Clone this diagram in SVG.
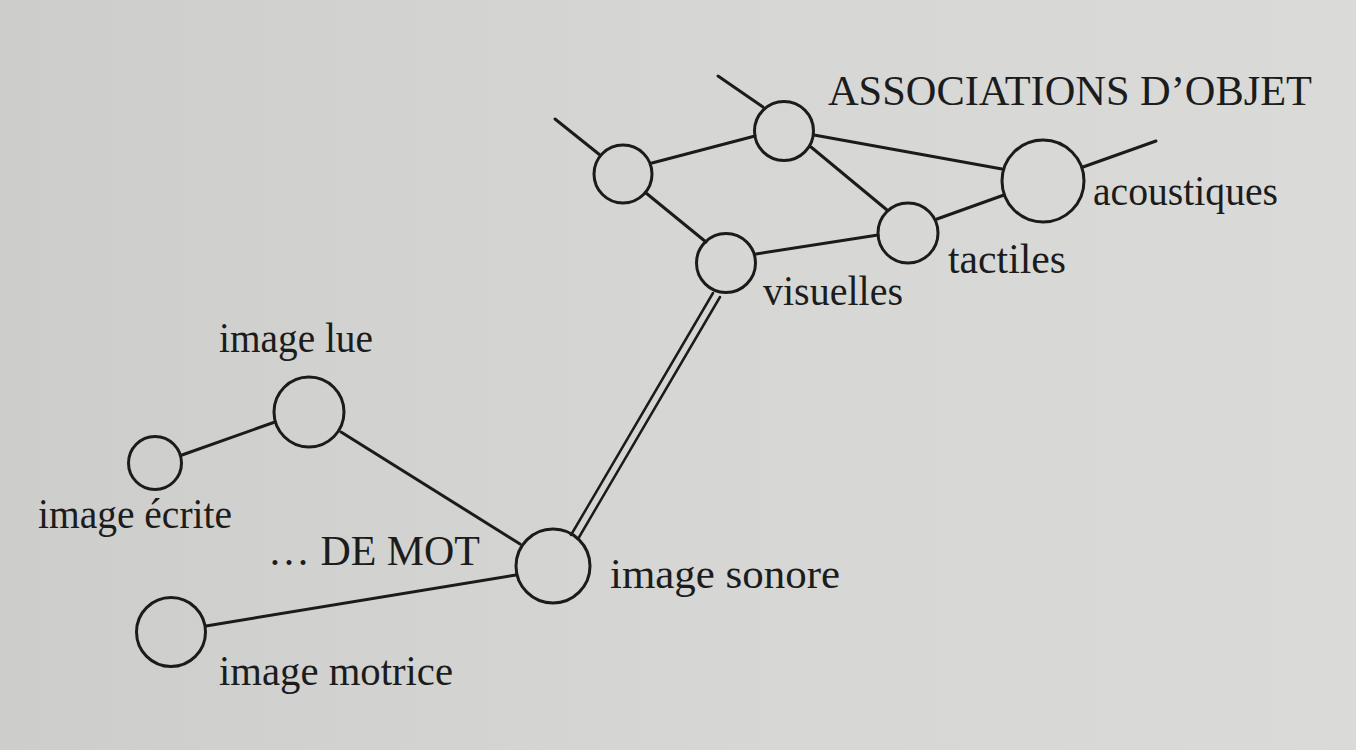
<svg xmlns="http://www.w3.org/2000/svg" width="1356" height="750" viewBox="0 0 1356 750">
<defs>
<linearGradient id="paper" x1="0" y1="0" x2="1" y2="0">
<stop offset="0" stop-color="#cdcecc"/>
<stop offset="0.5" stop-color="#d6d7d5"/>
<stop offset="1" stop-color="#dadbd9"/>
</linearGradient>
<style>
.node{fill:none;stroke:#1b1b1b;stroke-width:3}
.edge{fill:none;stroke:#1b1b1b;stroke-width:3;stroke-linecap:round}
.thin{fill:none;stroke:#1b1b1b;stroke-width:2.5;stroke-linecap:round}
.lbl{font-family:"Liberation Serif","Times New Roman",serif;font-size:42px;fill:#1c1c1c}
</style>
</defs>
<rect x="0" y="0" width="1356" height="750" fill="url(#paper)"/>
<g id="connectors">
<line class="edge" x1="555" y1="119" x2="600" y2="155"/>
<line class="edge" x1="718" y1="76" x2="763" y2="107"/>
<line class="edge" x1="652" y1="163" x2="755" y2="136"/>
<line class="edge" x1="646" y1="193" x2="706" y2="242"/>
<line class="edge" x1="811" y1="147" x2="887" y2="210"/>
<line class="edge" x1="814" y1="135" x2="1002" y2="169"/>
<line class="edge" x1="756" y1="254" x2="878" y2="235"/>
<line class="edge" x1="937" y1="219" x2="1004" y2="195"/>
<line class="edge" x1="1083" y1="167" x2="1156" y2="141"/>
<line class="thin" x1="571" y1="535" x2="713" y2="293"/>
<line class="thin" x1="578" y1="539" x2="720" y2="297"/>
<line class="edge" x1="182" y1="455" x2="275" y2="422"/>
<line class="edge" x1="341" y1="432" x2="520" y2="544"/>
<line class="edge" x1="206" y1="626" x2="516" y2="575"/>
</g>
<g id="node-unlabeled-left"><circle class="node" cx="623" cy="174" r="29"/></g>
<g id="node-unlabeled-top"><circle class="node" cx="784" cy="131" r="29.5"/></g>
<g id="node-visuelles"><circle class="node" cx="726" cy="263" r="29.5"/>
<text class="lbl" x="763" y="305" textLength="140" lengthAdjust="spacingAndGlyphs">visuelles</text></g>
<g id="node-tactiles"><circle class="node" cx="908" cy="233" r="30"/>
<text class="lbl" x="948" y="273" textLength="118" lengthAdjust="spacingAndGlyphs">tactiles</text></g>
<g id="node-acoustiques"><circle class="node" cx="1043" cy="181" r="41"/>
<text class="lbl" x="1093" y="205" textLength="185" lengthAdjust="spacingAndGlyphs">acoustiques</text></g>
<g id="title-objet"><text class="lbl" x="828" y="105" font-size="41" textLength="484" lengthAdjust="spacingAndGlyphs">ASSOCIATIONS D’OBJET</text></g>
<g id="node-image-lue"><circle class="node" cx="309" cy="412" r="35"/>
<text class="lbl" x="219" y="352" textLength="154" lengthAdjust="spacingAndGlyphs">image lue</text></g>
<g id="node-image-ecrite"><circle class="node" cx="155" cy="463" r="26.5"/>
<text class="lbl" x="38" y="528" textLength="194" lengthAdjust="spacingAndGlyphs">image écrite</text></g>
<g id="title-mot"><text class="lbl" x="268" y="565" textLength="212" lengthAdjust="spacingAndGlyphs">… DE MOT</text></g>
<g id="node-image-sonore"><circle class="node" cx="553" cy="566" r="37"/>
<text class="lbl" x="610" y="588" textLength="230" lengthAdjust="spacingAndGlyphs">image sonore</text></g>
<g id="node-image-motrice"><circle class="node" cx="171" cy="632" r="34.5"/>
<text class="lbl" x="219" y="685" textLength="234" lengthAdjust="spacingAndGlyphs">image motrice</text></g>
</svg>
